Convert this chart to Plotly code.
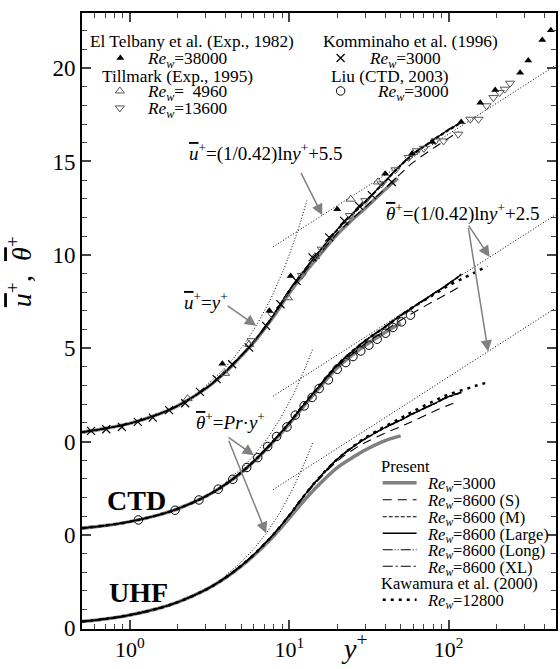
import numpy as np
import plotly.graph_objects as go

# ---------------- data ----------------
yp = [0.5, 0.7, 1, 1.5, 2, 3, 4, 5, 6, 7, 8, 10, 12, 15, 20, 25, 30, 40, 50, 60, 80, 100, 120]
yp_s = [0.5, 0.7, 1, 1.5, 2, 3, 4, 5, 6, 7, 8, 10, 12, 15, 20, 25, 30, 40, 50, 60, 80, 100, 115]
yp_3000_u = [0.5, 0.7, 1, 1.5, 2, 3, 4, 5, 6, 7, 8, 10, 12, 15, 20, 25, 30, 40, 48]
yp_3000_t = [0.5, 0.7, 1, 1.5, 2, 3, 4, 5, 6, 7, 8, 10, 12, 15, 20, 25, 30, 40, 50]
yp_kaw = [0.5, 0.7, 1, 1.5, 2, 3, 4, 5, 6, 7, 8, 10, 12, 15, 20, 25, 30, 40, 50, 60, 80, 100, 127, 150, 175]

# mean velocity u+
u_3000 = [0.5, 0.7, 0.97, 1.45, 1.92, 2.85, 3.74, 4.58, 5.32, 6.05, 6.72, 7.95, 8.85, 9.85, 11.1, 11.9, 12.5, 13.5, 14.1]
u_S = [0.5, 0.7, 0.97, 1.45, 1.92, 2.85, 3.75, 4.6, 5.35, 6.05, 6.75, 8.0, 8.9, 9.9, 11.15, 11.95, 12.55, 13.55, 14.35, 14.95, 15.7, 16.25, 16.6]
u_M = [0.5, 0.7, 0.97, 1.45, 1.92, 2.85, 3.75, 4.6, 5.35, 6.1, 6.8, 8.1, 9.0, 10.05, 11.3, 12.15, 12.8, 13.9, 14.75, 15.35, 16.1, 16.65, 17.05]
u_L = [0.5, 0.7, 0.97, 1.45, 1.92, 2.85, 3.75, 4.6, 5.35, 6.1, 6.8, 8.1, 9.0, 10.05, 11.35, 12.2, 12.85, 13.95, 14.8, 15.4, 16.15, 16.7, 17.1]
u_Lo = [0.5, 0.7, 0.97, 1.45, 1.92, 2.86, 3.77, 4.62, 5.38, 6.13, 6.83, 8.12, 9.03, 10.08, 11.38, 12.23, 12.88, 13.98, 14.83, 15.43, 16.18, 16.72, 17.12]
u_XL = [0.5, 0.7, 0.97, 1.45, 1.92, 2.85, 3.76, 4.61, 5.36, 6.11, 6.81, 8.11, 9.01, 10.06, 11.36, 12.21, 12.86, 13.96, 14.81, 15.41, 16.16, 16.71, 17.11]

# CTD temperature theta+
t_ctd_3000 = [0.36, 0.5, 0.71, 1.06, 1.4, 2.07, 2.72, 3.34, 3.93, 4.5, 5.02, 5.95, 6.78, 7.75, 8.95, 9.65, 10.15, 10.85, 11.35]
t_ctd_S = [0.36, 0.5, 0.71, 1.06, 1.4, 2.07, 2.72, 3.35, 3.95, 4.52, 5.05, 6.0, 6.85, 7.8, 9.0, 9.7, 10.25, 10.95, 11.5, 11.9, 12.5, 12.95, 13.25]
t_ctd_M = [0.36, 0.5, 0.71, 1.06, 1.4, 2.07, 2.72, 3.35, 3.95, 4.52, 5.05, 6.0, 6.85, 7.85, 9.08, 9.83, 10.38, 11.13, 11.72, 12.17, 12.87, 13.42, 13.92]
t_ctd_L = [0.36, 0.5, 0.71, 1.06, 1.4, 2.07, 2.72, 3.35, 3.95, 4.52, 5.05, 6.0, 6.85, 7.85, 9.1, 9.85, 10.4, 11.15, 11.75, 12.2, 12.9, 13.45, 13.95]
t_ctd_Lo = [0.36, 0.5, 0.71, 1.06, 1.4, 2.08, 2.74, 3.37, 3.97, 4.54, 5.07, 6.02, 6.87, 7.87, 9.12, 9.87, 10.42, 11.17, 11.77, 12.22, 12.92, 13.47, 13.97]
t_ctd_XL = [0.36, 0.5, 0.71, 1.06, 1.4, 2.07, 2.73, 3.36, 3.96, 4.53, 5.06, 6.01, 6.86, 7.86, 9.11, 9.86, 10.41, 11.16, 11.76, 12.21, 12.91, 13.46, 13.96]
t_ctd_kaw = [0.36, 0.5, 0.71, 1.06, 1.4, 2.07, 2.72, 3.35, 3.95, 4.52, 5.05, 6.0, 6.85, 7.85, 9.1, 9.85, 10.4, 11.15, 11.75, 12.2, 12.85, 13.35, 13.8, 14.1, 14.4]

# UHF temperature theta+
t_uhf_3000 = [0.36, 0.5, 0.71, 1.06, 1.4, 2.07, 2.72, 3.33, 3.9, 4.45, 4.95, 5.9, 6.7, 7.6, 8.6, 9.15, 9.55, 10.05, 10.3]
t_uhf_S = [0.36, 0.5, 0.71, 1.06, 1.4, 2.07, 2.72, 3.35, 3.95, 4.52, 5.05, 6.03, 6.9, 7.88, 8.95, 9.55, 9.95, 10.45, 10.8, 11.1, 11.6, 11.95, 12.15]
t_uhf_M = [0.36, 0.5, 0.71, 1.06, 1.4, 2.07, 2.72, 3.35, 3.95, 4.52, 5.05, 6.05, 6.95, 7.95, 9.03, 9.68, 10.13, 10.73, 11.13, 11.48, 11.98, 12.38, 12.6]
t_uhf_L = [0.36, 0.5, 0.71, 1.06, 1.4, 2.07, 2.72, 3.35, 3.95, 4.52, 5.05, 6.05, 6.95, 7.95, 9.05, 9.7, 10.15, 10.75, 11.15, 11.5, 12.0, 12.4, 12.62]
t_uhf_Lo = [0.36, 0.5, 0.71, 1.06, 1.4, 2.08, 2.74, 3.37, 3.97, 4.54, 5.07, 6.07, 6.97, 7.97, 9.07, 9.72, 10.17, 10.77, 11.17, 11.52, 12.02, 12.42, 12.64]
t_uhf_XL = [0.36, 0.5, 0.71, 1.06, 1.4, 2.07, 2.73, 3.36, 3.96, 4.53, 5.06, 6.06, 6.96, 7.96, 9.06, 9.71, 10.16, 10.76, 11.16, 11.51, 12.01, 12.41, 12.63]
t_uhf_kaw = [0.36, 0.5, 0.71, 1.06, 1.4, 2.07, 2.72, 3.35, 3.95, 4.52, 5.05, 6.05, 6.95, 7.95, 9.05, 9.72, 10.2, 10.82, 11.25, 11.62, 12.15, 12.52, 12.8, 13.0, 13.16]

# experimental / reference data
telbany_y = [3.8, 7.5, 10.2, 20, 40, 59, 79, 120, 158, 196, 281, 316, 387, 438]
telbany_u = [4.17, 7.0, 8.87, 12.44, 14.34, 15.43, 16.04, 17.11, 18.14, 18.82, 19.75, 20.4, 21.5, 22.03]
till4960_y = [2.3, 3.95, 5.6, 9.8, 14.5, 24.3, 36]
till4960_u = [2.3, 3.65, 5.2, 7.7, 9.9, 12.98, 13.9]
till13600_y = [5.8, 7.8, 12, 16, 24, 30, 38, 46.4, 56.2, 63.2, 70, 82.6, 93, 115, 137, 154, 173, 191, 209, 225, 243]
till13600_u = [5.4, 6.8, 8.9, 10.3, 12.1, 12.9, 13.8, 14.55, 15.21, 15.57, 15.7, 16.1, 16.1, 16.46, 17.26, 17.26, 17.98, 18.42, 18.69, 18.87, 19.19]
komm_y = [0.57, 0.71, 0.89, 1.12, 1.39, 1.76, 2.22, 2.75, 3.5, 4.38, 5.6, 7.15, 8.8, 11.1, 14.0, 17.8, 22.1, 27.4, 33, 44]
komm_u = [0.57, 0.66, 0.78, 1.05, 1.28, 1.68, 2.05, 2.66, 3.34, 4.14, 5.03, 6.19, 7.35, 8.6, 9.86, 10.93, 11.82, 12.62, 13.2, 13.9]
liu_y = [1.13, 1.92, 2.71, 3.58, 4.42, 5.41, 6.34, 7.32, 8.33, 9.67, 10.9, 12.4, 13.9, 15.4, 17.6, 20.0, 22.6, 25.1, 28.1, 31.6, 35.6, 40.2, 44.7, 50.6, 57.6]
liu_t = [0.8, 1.32, 1.87, 2.45, 2.98, 3.61, 4.14, 4.73, 5.27, 5.78, 6.41, 6.91, 7.36, 7.84, 8.30, 8.87, 9.23, 9.55, 9.85, 10.16, 10.48, 10.80, 11.11, 11.41, 11.77]

# laws
KAPPA = 0.42
PR = 0.71
B_U, B_T = 5.5, 2.5
lin_range_u = (3, 12.9)
lin_range_t = (4, 14)
log_range = (7.9, 480)

y_ticks = [-10, -5, 0, 5, 10, 15, 20]
y_ticktext = ["0", "0", "0", "5", "10", "15", "20"]
x_ticks = [1, 10, 100]
x_ticktext = ["10<sup>0</sup>", "10<sup>1</sup>", "10<sup>2</sup>"]

# vertical shifts of the stacked profiles
OFF_U, OFF_CTD, OFF_UHF = 0, -5, -10

# ---------------- styles ----------------
FONT = "Liberation Serif"
GRAY = "#808080"
ST_3000 = dict(color=GRAY, width=3.5)
ST_S = dict(color="black", width=1.1, dash="9px,6px")
ST_M = dict(color="black", width=1.1, dash="4px,2px")
ST_L = dict(color="black", width=1.3)
ST_LO = dict(color="black", width=1.1, dash="10px,2px,1px,2px,1px,2px")
ST_XL = dict(color="black", width=1.1, dash="10px,3px,2px,3px")
ST_K = dict(color="black", width=2.5, dash="3px,5px")

fig = go.Figure()


def line(x, y, st, off):
    fig.add_trace(go.Scatter(x=x, y=[v + off for v in y], mode="lines", line=st,
                             line_shape="spline", showlegend=False, hoverinfo="skip"))


def dotted(xs, ys):
    fig.add_trace(go.Scatter(x=xs, y=ys, mode="lines",
                             line=dict(color="black", width=1, dash="1px,2px"),
                             showlegend=False, hoverinfo="skip"))


# reference laws (dotted)
xl = np.geomspace(*lin_range_u, 40)
dotted(xl, xl + OFF_U)
xt = np.geomspace(*lin_range_t, 40)
dotted(xt, PR * xt + OFF_CTD)
dotted(xt, PR * xt + OFF_UHF)
xg = np.array(log_range)
dotted(xg, np.log(xg) / KAPPA + B_U + OFF_U)
dotted(xg, np.log(xg) / KAPPA + B_T + OFF_CTD)
dotted(xg, np.log(xg) / KAPPA + B_T + OFF_UHF)

# present results
line(yp_3000_u, u_3000, ST_3000, OFF_U)
line(yp_s, u_S, ST_S, OFF_U)
line(yp, u_M, ST_M, OFF_U)
line(yp, u_L, ST_L, OFF_U)
line(yp, u_Lo, ST_LO, OFF_U)
line(yp, u_XL, ST_XL, OFF_U)

line(yp_3000_t, t_ctd_3000, ST_3000, OFF_CTD)
line(yp_s, t_ctd_S, ST_S, OFF_CTD)
line(yp, t_ctd_M, ST_M, OFF_CTD)
line(yp, t_ctd_L, ST_L, OFF_CTD)
line(yp, t_ctd_Lo, ST_LO, OFF_CTD)
line(yp, t_ctd_XL, ST_XL, OFF_CTD)
line(yp_kaw, t_ctd_kaw, ST_K, OFF_CTD)

line(yp_3000_t, t_uhf_3000, ST_3000, OFF_UHF)
line(yp_s, t_uhf_S, ST_S, OFF_UHF)
line(yp, t_uhf_M, ST_M, OFF_UHF)
line(yp, t_uhf_L, ST_L, OFF_UHF)
line(yp, t_uhf_Lo, ST_LO, OFF_UHF)
line(yp, t_uhf_XL, ST_XL, OFF_UHF)
line(yp_kaw, t_uhf_kaw, ST_K, OFF_UHF)

# markers
MK_TEL = dict(symbol="triangle-up", size=7, color="black")
MK_T49 = dict(symbol="triangle-up-open", size=8, color="#555555", line=dict(width=1))
MK_T13 = dict(symbol="triangle-down-open", size=8, color="#555555", line=dict(width=1))
MK_KOM = dict(symbol="x-thin-open", size=8, color="black", line=dict(width=1.2, color="black"))
MK_LIU = dict(symbol="circle-open", size=8.5, color="black", line=dict(width=1))


def pts(x, y, mk, off):
    fig.add_trace(go.Scatter(x=x, y=[v + off for v in y], mode="markers", marker=mk,
                             showlegend=False, hoverinfo="skip"))


pts(till4960_y, till4960_u, MK_T49, OFF_U)
pts(till13600_y, till13600_u, MK_T13, OFF_U)
pts(komm_y, komm_u, MK_KOM, OFF_U)
pts(telbany_y, telbany_u, MK_TEL, OFF_U)
pts(liu_y, liu_t, MK_LIU, OFF_CTD)

# ---------------- legends (overlay axis in paper-like units) ----------------
def px2paper(px, py):
    return (px - 82) / 476.0, (629.3 - py) / 616.3


def leg_marker(px, py, mk):
    x, y = px2paper(px, py)
    fig.add_trace(go.Scatter(x=[x], y=[y], mode="markers", marker=mk, xaxis="x2", yaxis="y2",
                             showlegend=False, hoverinfo="skip"))


def leg_line(px0, px1, py, st):
    x0, y0 = px2paper(px0, py)
    x1, _ = px2paper(px1, py)
    fig.add_trace(go.Scatter(x=[x0, x1], y=[y0, y0], mode="lines", line=dict(st), xaxis="x2", yaxis="y2",
                             showlegend=False, hoverinfo="skip"))


def txt(px, py, text, size=16, anchor="left", **kw):
    x, y = px2paper(px, py)
    fig.add_annotation(x=x, y=y, xref="paper", yref="paper", text=text, showarrow=False,
                       xanchor=anchor, yanchor="middle", font=dict(family=FONT, size=size, color="black"), **kw)


RE = "<i>Re</i><sub><i>w</i></sub>"
LEG1 = 17.3
LEG2 = 16.5

txt(88, 42, "El Telbany et al. (Exp., 1982)", LEG1)
leg_marker(120.5, 58, MK_TEL)
txt(145, 60, RE + "=38000", LEG1)
txt(100, 77, "Tillmark (Exp., 1995)", LEG1)
leg_marker(120, 91, MK_T49)
txt(145, 93, RE + "=  4960", LEG1)
leg_marker(120, 108, MK_T13)
txt(145, 110, RE + "=13600", LEG1)
txt(322, 42, "Komminaho et al. (1996)", LEG1)
leg_marker(341.7, 58, MK_KOM)
txt(368, 60, RE + "=3000", LEG1)
txt(330, 77, "Liu (CTD, 2003)", LEG1)
leg_marker(341.7, 91, MK_LIU)
txt(376, 93, RE + "=3000", LEG1)

txt(380, 467, "Present", LEG2)
legend_rows = [
    (483, ST_3000, "=3000"),
    (500, ST_S, "=8600 (S)"),
    (517, ST_M, "=8600 (M)"),
    (533.5, ST_L, "=8600 (Large)"),
    (550, ST_LO, "=8600 (Long)"),
    (566.5, ST_XL, "=8600 (XL)"),
]
for py, st, lab in legend_rows:
    leg_line(384, 418, py, st)
    txt(426, py + 1.5, RE + lab, LEG2)
txt(380, 584, "Kawamura et al. (2000)", LEG2)
leg_line(384, 418, 600, ST_K)
txt(426, 601.5, RE + "=12800", LEG2)

# ---------------- formula labels and arrows ----------------
def ol(s):
    return '<span style="text-decoration:overline">' + s + '</span>'


U = ol("<i>u</i>") + "<sup>+</sup>"
TH = ol("<i>θ</i>") + "<sup>+</sup>"
YP = "<i>y</i><sup>+</sup>"

txt(187, 153, U + "=(1/0.42)ln" + YP + "+5.5", size=19)
txt(182, 301, U + "=" + YP, size=19)
txt(385, 213, TH + "=(1/0.42)ln" + YP + "+2.5", size=19)
txt(194, 421, TH + "=<i>Pr</i>·" + YP, size=19)


def arrow(yplus, val, ax, ay):
    fig.add_annotation(x=np.log10(yplus), y=val, xref="x", yref="y", ax=ax, ay=ay,
                       showarrow=True, arrowhead=2, arrowsize=1.5, arrowwidth=1.5,
                       arrowcolor=GRAY, text="")


yv = 16.1
arrow(yv, np.log(yv) / KAPPA + B_U + OFF_U, -22, -44)
yv = 6.2
arrow(yv, yv + OFF_U, -30, -21)
yv = 181
arrow(yv, np.log(yv) / KAPPA + B_T + OFF_CTD, -22, -33)
yv = 177
arrow(yv, np.log(yv) / KAPPA + B_T + OFF_UHF, -20, -125)
yv = 6.0
arrow(yv, PR * yv + OFF_CTD, -27, -19)
yv = 7.16
arrow(yv, PR * yv + OFF_UHF, -38, -94)

# labels
txt(137, 501, "<b>CTD</b>", size=28, anchor="center")
txt(139, 593, "<b>UHF</b>", size=28, anchor="center")
txt(356, 647, YP, size=28, anchor="center")
txt(20, 272, U + ",  " + TH, size=28, anchor="center", textangle=-90)

# ---------------- axes ----------------
minor_x = [0.6, 0.7, 0.8, 0.9] + [k for k in range(2, 10)] + [10 * k for k in range(2, 10)] + [100 * k for k in range(2, 5)]

fig.update_layout(
    width=560, height=669,
    margin=dict(l=82, r=2, t=13, b=40, pad=0),
    paper_bgcolor="white", plot_bgcolor="white",
    font=dict(family=FONT, size=22, color="black"),
    xaxis=dict(type="log", range=[np.log10(0.5), np.log10(0.5) + 476 / 160.0],
               tickvals=x_ticks, ticktext=x_ticktext, ticks="inside", ticklen=9, tickwidth=1.5,
               showline=True, linewidth=2, linecolor="black", mirror="ticks", showgrid=False,
               zeroline=False, tickfont=dict(family=FONT, size=22),
               minor=dict(tickvals=minor_x, ticks="inside", ticklen=5, tickwidth=1.2, showgrid=False)),
    yaxis=dict(range=[-10.04, 22.95], tickvals=y_ticks, ticktext=y_ticktext, ticks="inside",
               ticklen=9, tickwidth=1.5, showline=True, linewidth=2, linecolor="black",
               mirror="ticks", showgrid=False, zeroline=False, tickfont=dict(family=FONT, size=23),
               minor=dict(dtick=1, ticks="inside", ticklen=5, tickwidth=1.2, showgrid=False)),
    xaxis2=dict(overlaying="x", range=[0, 1], visible=False, fixedrange=True),
    yaxis2=dict(overlaying="y", range=[0, 1], visible=False, fixedrange=True),
    showlegend=False,
)

fig.write_html("out.html")
